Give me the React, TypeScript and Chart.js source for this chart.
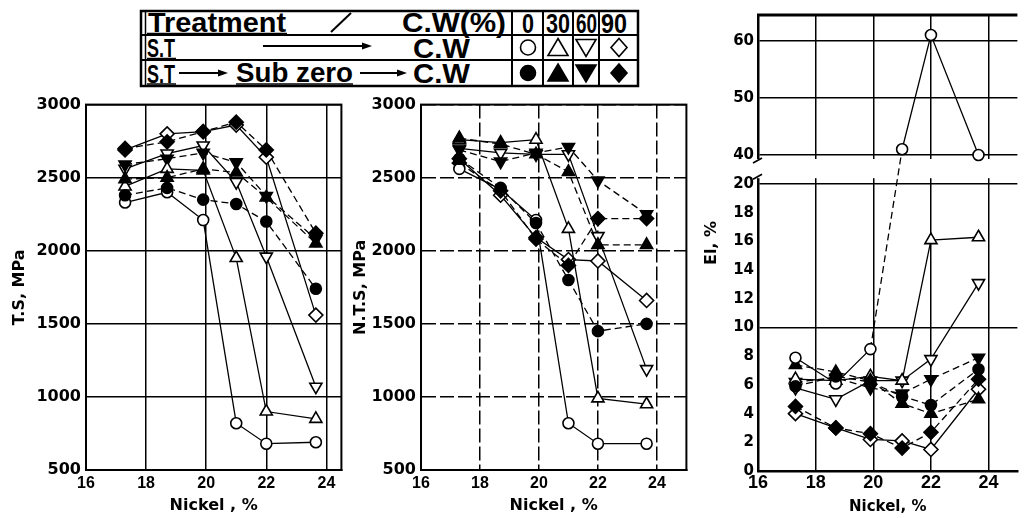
import React, { useEffect, useRef } from 'react';
import { Chart, registerables, LinearScale } from 'chart.js';

Chart.register(...registerables);

// ---------------- data ----------------
const nickel = [17.3, 18.7, 19.9, 21.0, 22.0, 23.65];
const nickelTicks = [16, 18, 20, 22, 24];
const strengthTicks = [500, 1000, 1500, 2000, 2500, 3000];
const elTicks = [0, 2, 4, 6, 8, 10, 12, 14, 16, 18, 20, 40, 50, 60];
const elGridValues = [10, 20, 40, 50, 60];
const cwLevels = ['0', '30', '60', '90'];
const treatments = ['S.T → C.W', 'S.T → Sub zero → C.W'];

// T.S, MPa — S.T → C.W
const tsST_cw0 = [2330, 2400, 2210, 820, 680, 690];
const tsST_cw30 = [2440, 2560, 2550, 1950, 900, 850];
const tsST_cw60 = [2560, 2665, 2720, 2470, 1960, 1070];
const tsST_cw90 = [2690, 2800, 2815, 2860, 2640, 1560];
// T.S, MPa — S.T → Sub zero → C.W
const tsSZ_cw0 = [2380, 2430, 2350, 2320, 2200, 1740];
const tsSZ_cw30 = [2490, 2500, 2560, 2535, 2365, 2050];
const tsSZ_cw60 = [2590, 2630, 2670, 2605, 2375, 2080];
const tsSZ_cw90 = [2700, 2745, 2815, 2880, 2690, 2120];

// N.T.S, MPa — S.T → C.W
const ntsST_cw0 = [2560, 2420, 2210, 820, 680, 680];
const ntsST_cw30 = [2760, 2740, 2760, 2150, 990, 950];
const ntsST_cw60 = [2700, 2670, 2660, 2660, 2100, 1190];
const ntsST_cw90 = [2630, 2380, 2090, 1940, 1930, 1660];
// N.T.S, MPa — S.T → Sub zero → C.W
const ntsSZ_cw0 = [2630, 2430, 2190, 1800, 1450, 1500];
const ntsSZ_cw30 = [2770, 2730, 2660, 2540, 2040, 2040];
const ntsSZ_cw60 = [2690, 2610, 2670, 2710, 2480, 2250];
const ntsSZ_cw90 = [2600, 2410, 2080, 1900, 2220, 2220];

// El, % — S.T → C.W
const elST_cw0 = [7.9, 6.1, 8.5, 41, 61, 40];
const elST_cw30 = [6.4, 6.3, 6.6, 6.3, 16.1, 16.3];
const elST_cw60 = [5.8, 5.0, 6.3, 6.3, 7.8, 13.1];
const elST_cw90 = [4.0, 3.0, 2.2, 2.1, 1.5, 5.7];
// El, % — S.T → Sub zero → C.W
const elSZ_cw0 = [5.9, 6.6, 6.2, 5.2, 4.6, 7.1];
const elSZ_cw30 = [7.4, 6.9, 6.3, 4.7, 4.0, 5.0];
const elSZ_cw60 = [6.2, 6.5, 5.8, 5.4, 6.4, 7.9];
const elSZ_cw90 = [4.5, 3.0, 2.6, 1.6, 2.7, 6.4];

// ---------------- broken El axis ----------------
const EL_MAX = 64.5;
const FR_LOWER = 0.629;
const FR_GAP = 0.064;

function elToDecimal(v: number) {
  if (v <= 20) return (v / 20) * FR_LOWER;
  if (v <= 40) return FR_LOWER + ((v - 20) / 20) * FR_GAP;
  return FR_LOWER + FR_GAP + ((v - 40) / (EL_MAX - 40)) * (1 - FR_LOWER - FR_GAP);
}
function decimalToEl(d: number) {
  if (d <= FR_LOWER) return (d / FR_LOWER) * 20;
  if (d <= FR_LOWER + FR_GAP) return 20 + ((d - FR_LOWER) / FR_GAP) * 20;
  return 40 + ((d - FR_LOWER - FR_GAP) / (1 - FR_LOWER - FR_GAP)) * (EL_MAX - 40);
}

class BrokenLinearScale extends LinearScale {
  static id = 'brokenLinear';
  static defaults = LinearScale.defaults;
  getPixelForValue(value: number) {
    return this.getPixelForDecimal(elToDecimal(value));
  }
  getValueForPixel(pixel: number) {
    return decimalToEl(this.getDecimalForPixel(pixel));
  }
}
Chart.register(BrokenLinearScale);

// ---------------- styling helpers ----------------
const markerStyles = ['circle', 'triangle', 'triangle', 'rectRot'];
const markerRotations = [0, 0, 180, 0];
const markerRadii = [5.5, 7, 7, 7];

function series(values: number[], level: number, filled: boolean, dashedSegment?: number) {
  return {
    label: `${filled ? treatments[1] : treatments[0]} (C.W ${cwLevels[level]}%)`,
    data: nickel.map((x, i) => ({ x, y: values[i] })),
    borderColor: '#000',
    borderWidth: 1.3,
    borderDash: filled ? [7, 4] : [],
    segment:
      dashedSegment !== undefined
        ? { borderDash: (c: any) => (c.p0DataIndex === dashedSegment ? [7, 4] : undefined) }
        : undefined,
    pointStyle: markerStyles[level],
    pointRotation: markerRotations[level],
    pointRadius: markerRadii[level],
    pointHoverRadius: markerRadii[level],
    pointBorderWidth: 1.6,
    pointBorderColor: '#000',
    pointBackgroundColor: filled ? '#000' : '#fff',
    backgroundColor: filled ? '#000' : '#fff',
    fill: false,
    tension: 0,
  };
}

function buildDatasets(st: number[][], sz: number[][], openCircleDashedSegment?: number) {
  const out: any[] = [];
  for (let i = 0; i < 4; i++) {
    out.push(series(sz[i], i, true));
    out.push(series(st[i], i, false, i === 0 ? openCircleDashedSegment : undefined));
  }
  return out;
}

const tickFontY = { family: 'DejaVu Sans', weight: 'bold' as const, size: 16 };
const titleFont = { family: 'DejaVu Sans', weight: 'bold' as const, size: 16 };

const framePlugin = {
  id: 'frame',
  beforeDatasetsDraw(chart: any) {
    const { ctx, chartArea: a } = chart;
    ctx.save();
    ctx.strokeStyle = '#000';
    ctx.lineWidth = 2;
    ctx.strokeRect(a.left, a.top, a.right - a.left, a.bottom - a.top);
    ctx.restore();
  },
};

const breakPlugin = {
  id: 'break',
  beforeDatasetsDraw(chart: any) {
    const { ctx, chartArea: a } = chart;
    const y = chart.scales.y;
    const y40 = y.getPixelForValue(40);
    const y20 = y.getPixelForValue(20);
    const gTop = y40 + 4;
    const gBot = y20 - 6;
    ctx.save();
    ctx.fillStyle = '#fff';
    ctx.fillRect(a.left - 3, gTop, a.right - a.left + 3, gBot - gTop);
    ctx.strokeStyle = '#000';
    ctx.lineWidth = 3;
    ctx.beginPath();
    ctx.moveTo(a.left - 1, a.top);
    ctx.lineTo(a.right, a.top);
    ctx.stroke();
    ctx.lineWidth = 1.8;
    ctx.beginPath();
    ctx.moveTo(a.left - 5, gTop + 4);
    ctx.lineTo(a.left + 4, gTop - 1);
    ctx.moveTo(a.left - 5, gBot + 1);
    ctx.lineTo(a.left + 4, gBot - 4);
    ctx.stroke();
    ctx.restore();
  },
};

function strengthConfig(opts: {
  st: number[][];
  sz: number[][];
  yTitle: string;
  xMax: number;
  yWidth: number;
  rightPad: number;
  yTitlePad: number;
  dashedGrid: boolean;
}) {
  const dash = opts.dashedGrid ? [14, 4] : [];
  return {
    type: 'line' as const,
    data: { datasets: buildDatasets(opts.st, opts.sz) },
    plugins: [framePlugin],
    options: {
      animation: false as const,
      responsive: false,
      events: [],
      layout: { padding: { top: 10, right: opts.rightPad, left: 0, bottom: 0 } },
      plugins: { legend: { display: false }, tooltip: { enabled: false } },
      scales: {
        x: {
          type: 'linear' as const,
          min: 16,
          max: opts.xMax,
          afterBuildTicks: (s: any) => {
            s.ticks = nickelTicks.map((v) => ({ value: v }));
          },
          afterFit: (s: any) => {
            s.height = 48;
          },
          grid: { color: '#000', lineWidth: 1.5, drawTicks: false },
          border: { color: '#000', width: 2, dash },
          ticks: {
            padding: 4,
            color: '#000',
            autoSkip: false,
            maxRotation: 0,
            font: { family: 'Liberation Sans', weight: 'bold' as const, size: 16 },
            callback: (v: any) => String(v),
          },
          title: {
            display: true,
            text: 'Nickel , %',
            color: '#000',
            font: titleFont,
            padding: { top: 0, bottom: 3 },
          },
        },
        y: {
          type: 'linear' as const,
          min: 500,
          max: 3000,
          afterBuildTicks: (s: any) => {
            s.ticks = strengthTicks.map((v) => ({ value: v }));
          },
          afterFit: (s: any) => {
            s.width = opts.yWidth;
          },
          grid: { color: '#000', lineWidth: 1.5, drawTicks: false },
          border: { color: '#000', width: 2, dash },
          ticks: {
            padding: 5,
            color: '#000',
            autoSkip: false,
            font: tickFontY,
            callback: (v: any) => String(v),
          },
          title: {
            display: true,
            text: opts.yTitle,
            color: '#000',
            font: titleFont,
            padding: { top: opts.yTitlePad, bottom: 0 },
          },
        },
      },
    },
  };
}

function elConfig() {
  return {
    type: 'line' as const,
    data: {
      datasets: buildDatasets(
        [elST_cw0, elST_cw30, elST_cw60, elST_cw90],
        [elSZ_cw0, elSZ_cw30, elSZ_cw60, elSZ_cw90],
        2
      ),
    },
    plugins: [breakPlugin],
    options: {
      animation: false as const,
      responsive: false,
      events: [],
      layout: { padding: { top: 15, right: 0, left: 0, bottom: 0 } },
      plugins: { legend: { display: false }, tooltip: { enabled: false } },
      scales: {
        x: {
          type: 'linear' as const,
          min: 16,
          max: 25,
          afterBuildTicks: (s: any) => {
            s.ticks = nickelTicks.map((v) => ({ value: v }));
          },
          afterFit: (s: any) => {
            s.height = 47;
          },
          grid: { color: '#000', lineWidth: 1.5, drawTicks: false },
          border: { color: '#000', width: 2.5 },
          ticks: {
            padding: 1,
            color: '#000',
            autoSkip: false,
            maxRotation: 0,
            font: { family: 'Liberation Sans', weight: 'bold' as const, size: 18 },
            callback: (v: any) => String(v),
          },
          title: {
            display: true,
            text: 'Nickel, %',
            color: '#000',
            font: { family: 'DejaVu Sans', weight: 'bold' as const, size: 15 },
            padding: { top: 0, bottom: 2 },
          },
        },
        y: {
          type: 'brokenLinear',
          min: 0,
          max: EL_MAX,
          afterBuildTicks: (s: any) => {
            s.ticks = elTicks.map((v) => ({ value: v }));
          },
          afterFit: (s: any) => {
            s.width = 58;
          },
          grid: {
            color: (c: any) => (c.tick && elGridValues.includes(c.tick.value) ? '#000' : 'rgba(0,0,0,0)'),
            lineWidth: 1.5,
            drawTicks: false,
          },
          border: { color: '#000', width: 2.5 },
          ticks: {
            padding: 4,
            color: '#000',
            autoSkip: false,
            font: { family: 'DejaVu Sans', weight: 'bold' as const, size: 15 },
            callback: (v: any) => String(v),
          },
          title: {
            display: true,
            text: 'El, %',
            color: '#000',
            font: titleFont,
            padding: { top: 2, bottom: 0 },
          },
        },
      },
    },
  };
}

function ChartCanvas(props: { left: number; top: number; width: number; height: number; make: () => any }) {
  const ref = useRef<HTMLCanvasElement | null>(null);
  useEffect(() => {
    if (!ref.current) return;
    const chart = new Chart(ref.current, props.make());
    return () => chart.destroy();
  }, []);
  return (
    <canvas
      ref={ref}
      width={props.width}
      height={props.height}
      style={{ position: 'absolute', left: props.left, top: props.top, width: props.width, height: props.height }}
    />
  );
}

function Legend() {
  const font = 'Liberation Sans, Arial, sans-serif';
  const cols = [528, 558, 586, 619];
  const arrow = (x1: number, x2: number, y: number, key: string) => (
    <g key={key}>
      <line x1={x1} y1={y} x2={x2 - 8} y2={y} stroke="#000" strokeWidth={2} />
      <polygon points={`${x2 - 10},${y - 3.5} ${x2},${y} ${x2 - 10},${y + 3.5}`} fill="#000" />
    </g>
  );
  const sym = (level: number, cx: number, cy: number, filled: boolean, key: string) => {
    const fill = filled ? '#000' : '#fff';
    if (level === 0) return <circle key={key} cx={cx} cy={cy} r={7.5} fill={fill} stroke="#000" strokeWidth={1.6} />;
    if (level === 1)
      return (
        <polygon key={key} points={`${cx},${cy - 9} ${cx + 10},${cy + 8} ${cx - 10},${cy + 8}`} fill={fill} stroke="#000" strokeWidth={1.6} />
      );
    if (level === 2)
      return (
        <polygon key={key} points={`${cx - 10},${cy - 8} ${cx + 10},${cy - 8} ${cx},${cy + 9}`} fill={fill} stroke="#000" strokeWidth={1.6} />
      );
    return (
      <polygon key={key} points={`${cx},${cy - 9} ${cx + 8},${cy} ${cx},${cy + 9} ${cx - 8},${cy}`} fill={fill} stroke="#000" strokeWidth={1.6} />
    );
  };
  return (
    <svg width={660} height={92} style={{ position: 'absolute', left: 0, top: 0 }}>
      <rect x={141} y={11} width={497} height={75} fill="#fff" stroke="#000" strokeWidth={2.5} />
      <line x1={145.5} y1={11} x2={145.5} y2={86} stroke="#000" strokeWidth={1.5} />
      <line x1={141} y1={35} x2={638} y2={35} stroke="#000" strokeWidth={2} />
      <line x1={141} y1={60} x2={638} y2={60} stroke="#000" strokeWidth={2} />
      {[512, 543, 573, 599].map((x) => (
        <line key={x} x1={x} y1={11} x2={x} y2={86} stroke="#000" strokeWidth={2} />
      ))}
      <g fontFamily={font} fontWeight="bold" fill="#000">
        <text x={148} y={32} fontSize={28} textLength={138} lengthAdjust="spacingAndGlyphs">
          Treatment
        </text>
        <line x1={331} y1={32} x2={351} y2={13} stroke="#000" strokeWidth={2} />
        <text x={402} y={32} fontSize={28} textLength={104} lengthAdjust="spacingAndGlyphs">
          C.W(%)
        </text>
        <text x={522} y={33} fontSize={27} textLength={12} lengthAdjust="spacingAndGlyphs">
          {cwLevels[0]}
        </text>
        <text x={546} y={33} fontSize={27} textLength={24} lengthAdjust="spacingAndGlyphs">
          {cwLevels[1]}
        </text>
        <text x={576} y={33} fontSize={27} textLength={21} lengthAdjust="spacingAndGlyphs">
          {cwLevels[2]}
        </text>
        <text x={601} y={33} fontSize={27} textLength={26} lengthAdjust="spacingAndGlyphs">
          {cwLevels[3]}
        </text>
        <text x={147} y={57} fontSize={26} textLength={28} lengthAdjust="spacingAndGlyphs">
          S.T
        </text>
        <text x={413} y={58} fontSize={27} textLength={57} lengthAdjust="spacingAndGlyphs">
          C.W
        </text>
        <text x={147} y={83} fontSize={26} textLength={28} lengthAdjust="spacingAndGlyphs">
          S.T
        </text>
        <text x={236} y={82} fontSize={27} textLength={117} lengthAdjust="spacingAndGlyphs">
          Sub zero
        </text>
        <text x={413} y={83} fontSize={27} textLength={57} lengthAdjust="spacingAndGlyphs">
          C.W
        </text>
      </g>
      <line x1={147} y1={33.5} x2={287} y2={33.5} stroke="#000" strokeWidth={1.5} />
      <line x1={147} y1={58.5} x2={176} y2={58.5} stroke="#000" strokeWidth={1.5} />
      <line x1={147} y1={84} x2={176} y2={84} stroke="#000" strokeWidth={1.5} />
      <line x1={236} y1={84} x2={353} y2={84} stroke="#000" strokeWidth={1.5} />
      {arrow(263, 372, 46, 'a1')}
      {arrow(179, 228, 73, 'a2')}
      {arrow(360, 407, 73, 'a3')}
      {cols.map((cx, i) => sym(i, cx, 47.5, false, 'o' + i))}
      {cols.map((cx, i) => sym(i, cx, 73, true, 'f' + i))}
    </svg>
  );
}

export default function App() {
  return (
    <div
      style={{
        position: 'absolute',
        left: 0,
        top: 0,
        width: 1026,
        height: 518,
        overflow: 'hidden',
        background: '#fff',
      }}
    >
      <Legend />
      <ChartCanvas
        left={0}
        top={90}
        width={350}
        height={428}
        make={() =>
          strengthConfig({
            st: [tsST_cw0, tsST_cw30, tsST_cw60, tsST_cw90],
            sz: [tsSZ_cw0, tsSZ_cw30, tsSZ_cw60, tsSZ_cw90],
            yTitle: 'T.S, MPa',
            xMax: 24.5,
            yWidth: 86,
            rightPad: 8,
            yTitlePad: 10,
            dashedGrid: false,
          })
        }
      />
      <ChartCanvas
        left={350}
        top={90}
        width={345}
        height={428}
        make={() =>
          strengthConfig({
            st: [ntsST_cw0, ntsST_cw30, ntsST_cw60, ntsST_cw90],
            sz: [ntsSZ_cw0, ntsSZ_cw30, ntsSZ_cw60, ntsSZ_cw90],
            yTitle: 'N.T.S, MPa',
            xMax: 25,
            yWidth: 71,
            rightPad: 5,
            yTitlePad: 1,
            dashedGrid: true,
          })
        }
      />
      <ChartCanvas left={700} top={0} width={326} height={518} make={elConfig} />
    </div>
  );
}
